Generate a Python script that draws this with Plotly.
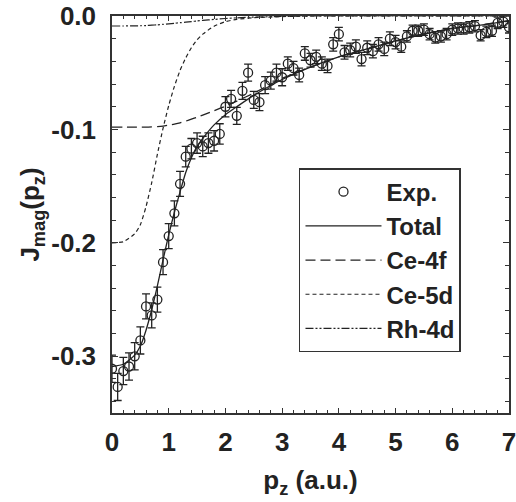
import plotly.graph_objects as go

# Experimental data
x_exp = [0.0, 0.1, 0.2, 0.3, 0.4, 0.5, 0.6, 0.7, 0.8, 0.9,
         1.0, 1.1, 1.2, 1.3, 1.4, 1.5, 1.6, 1.7, 1.8, 1.9,
         2.0, 2.1, 2.2, 2.3, 2.4, 2.5, 2.6, 2.7, 2.8, 2.9,
         3.0, 3.1, 3.2, 3.3, 3.4, 3.5, 3.6, 3.7, 3.8, 3.9,
         4.0, 4.1, 4.2, 4.3, 4.4, 4.5, 4.6, 4.7, 4.8, 4.9,
         5.0, 5.1, 5.2, 5.3, 5.4, 5.5, 5.6, 5.7, 5.8, 5.9,
         6.0, 6.1, 6.2, 6.3, 6.4, 6.5, 6.6, 6.7, 6.8, 6.9, 7.0]
y_exp = [-0.311, -0.327, -0.313, -0.309, -0.300, -0.286, -0.256, -0.264, -0.250, -0.217,
         -0.194, -0.174, -0.148, -0.124, -0.117, -0.112, -0.115, -0.112, -0.110, -0.104,
         -0.080, -0.073, -0.088, -0.066, -0.050, -0.074, -0.076, -0.061, -0.057, -0.050,
         -0.054, -0.042, -0.046, -0.052, -0.033, -0.039, -0.036, -0.042, -0.044, -0.025,
         -0.016, -0.032, -0.030, -0.027, -0.038, -0.028, -0.031, -0.025, -0.029, -0.020,
         -0.023, -0.027, -0.018, -0.013, -0.013, -0.012, -0.016, -0.019, -0.018, -0.016,
         -0.012, -0.011, -0.011, -0.010, -0.009, -0.017, -0.014, -0.013, -0.006, -0.005, -0.010]
err_exp = [0.012, 0.012, 0.012, 0.012, 0.012, 0.012, 0.011, 0.011, 0.011, 0.011,
           0.011, 0.011, 0.011, 0.009, 0.009, 0.009, 0.009, 0.009, 0.009, 0.009,
           0.009, 0.0075, 0.0075, 0.0075, 0.0075, 0.0075, 0.0075, 0.0075, 0.0075, 0.0075,
           0.0075, 0.006, 0.006, 0.006, 0.006, 0.006, 0.006, 0.006, 0.006, 0.006,
           0.006, 0.006, 0.006, 0.006, 0.006, 0.006, 0.006, 0.006, 0.006, 0.006,
           0.006, 0.005, 0.005, 0.005, 0.005, 0.005, 0.005, 0.005, 0.005, 0.005,
           0.005, 0.005, 0.005, 0.005, 0.005, 0.005, 0.005, 0.005, 0.005, 0.005, 0.005]

# Calculated curves
x_fit = [0.0, 0.2, 0.4, 0.5, 0.6, 0.7, 0.8, 0.9, 1.0, 1.1, 1.2, 1.3, 1.4, 1.5,
         1.6, 1.8, 2.0, 2.2, 2.5, 3.0, 3.5, 4.0, 4.5, 5.0, 5.5, 6.0, 6.5, 7.0]
y_total = [-0.309, -0.307, -0.299, -0.291, -0.277, -0.259, -0.238, -0.215, -0.193, -0.173,
           -0.155, -0.138, -0.125, -0.115, -0.108, -0.096, -0.087, -0.080, -0.070, -0.056,
           -0.045, -0.036, -0.029, -0.022, -0.016, -0.011, -0.008, -0.004]
y_ce4f = [-0.098, -0.098, -0.098, -0.098, -0.098, -0.0978, -0.0975, -0.097, -0.0962, -0.0953,
          -0.0942, -0.0927, -0.091, -0.0892, -0.0873, -0.0835, -0.0795, -0.0750, -0.068, -0.055,
          -0.045, -0.036, -0.029, -0.022, -0.016, -0.011, -0.008, -0.004]
y_ce5d = [-0.200, -0.199, -0.192, -0.184, -0.168, -0.147, -0.122, -0.099, -0.079, -0.062,
          -0.048, -0.037, -0.028, -0.021, -0.016, -0.009, -0.005, -0.003, -0.0015, -0.0005,
          0.0, 0.0, 0.0, 0.0, 0.0, 0.0, 0.0, 0.0]
y_rh4d = [-0.0088, -0.0088, -0.0087, -0.0086, -0.0084, -0.0081, -0.0078, -0.0074, -0.0069, -0.0064,
          -0.0059, -0.0054, -0.0049, -0.0044, -0.0039, -0.0030, -0.0022, -0.0016, -0.0010, -0.0004,
          0.0, 0.0, 0.0, 0.0, 0.0, 0.0, 0.0, 0.0]

x_tick_vals = [0, 1, 2, 3, 4, 5, 6, 7]
x_tick_text = ["0", "1", "2", "3", "4", "5", "6", "7"]
y_tick_vals = [0.0, -0.1, -0.2, -0.3]
y_tick_text = ["0.0", "-0.1", "-0.2", "-0.3"]

FONT = "Liberation Sans, Arial, sans-serif"
INK = "#222222"

fig = go.Figure()
fig.add_trace(go.Scatter(
    x=x_exp, y=y_exp, mode="markers", name="Exp.",
    marker=dict(symbol="circle-open", size=9, color=INK, line=dict(width=1.3, color=INK)),
    error_y=dict(type="data", array=err_exp, visible=True, color=INK, thickness=1.3, width=4),
))
fig.add_trace(go.Scatter(
    x=x_fit, y=y_total, mode="lines", name="Total",
    line=dict(color=INK, width=1.3, shape="spline", smoothing=0.6),
))
fig.add_trace(go.Scatter(
    x=x_fit, y=y_ce4f, mode="lines", name="Ce-4f",
    line=dict(color=INK, width=1.3, dash="10px,5px", shape="spline", smoothing=0.6),
))
fig.add_trace(go.Scatter(
    x=x_fit, y=y_ce5d, mode="lines", name="Ce-5d",
    line=dict(color=INK, width=1.2, dash="4px,3px", shape="spline", smoothing=0.6),
))
fig.add_trace(go.Scatter(
    x=x_fit, y=y_rh4d, mode="lines", name="Rh-4d",
    line=dict(color=INK, width=1.2, dash="8px,2px,2px,2px,2px,2px", shape="spline", smoothing=0.6),
))

axis_common = dict(
    showline=True, linecolor="#333333", linewidth=1.5, mirror="ticks",
    ticks="inside", tickcolor="#333333", tickwidth=1.2,
    showgrid=False, zeroline=False, automargin=False,
    ticklabeloverflow="allow",
    tickfont=dict(family=FONT, size=26, color=INK, weight="bold"),
)

fig.update_xaxes(
    range=[0, 7], tickmode="array", tickvals=x_tick_vals, ticktext=x_tick_text,
    ticklen=5, ticklabelstandoff=5,
    minor=dict(ticks="inside", dtick=0.2, ticklen=3, tickcolor="#333333", tickwidth=1),
    title=dict(text="p<sub>z</sub> (a.u.)", font=dict(family=FONT, size=26, color=INK, weight="bold"), standoff=15),
    **axis_common,
)
fig.update_yaxes(
    range=[-0.35, 0.0], tickmode="array", tickvals=y_tick_vals, ticktext=y_tick_text,
    ticklen=6, ticklabelstandoff=9,
    minor=dict(ticks="inside", dtick=0.02, ticklen=4, tickcolor="#333333", tickwidth=1),
    title=dict(text="J<sub>mag</sub>(p<sub>z</sub>)", font=dict(family=FONT, size=26, color=INK, weight="bold"), standoff=4),
    **axis_common,
)

fig.update_layout(
    width=516, height=502,
    margin=dict(l=112, r=7, t=15.5, b=88.7, autoexpand=False),
    paper_bgcolor="white", plot_bgcolor="white",
    showlegend=True,
    legend=dict(
        x=0.471, y=0.617, xanchor="left", yanchor="top",
        bgcolor="white", bordercolor="#333333", borderwidth=1.5,
        font=dict(family=FONT, size=24, color=INK, weight="bold"),
        itemwidth=76, tracegroupgap=0,
    ),
)

# remove the page's default body margin so the figure fills the window exactly
fig.write_html("out.html", config={"displayModeBar": False},
               post_script="document.body.style.margin='0px';")
